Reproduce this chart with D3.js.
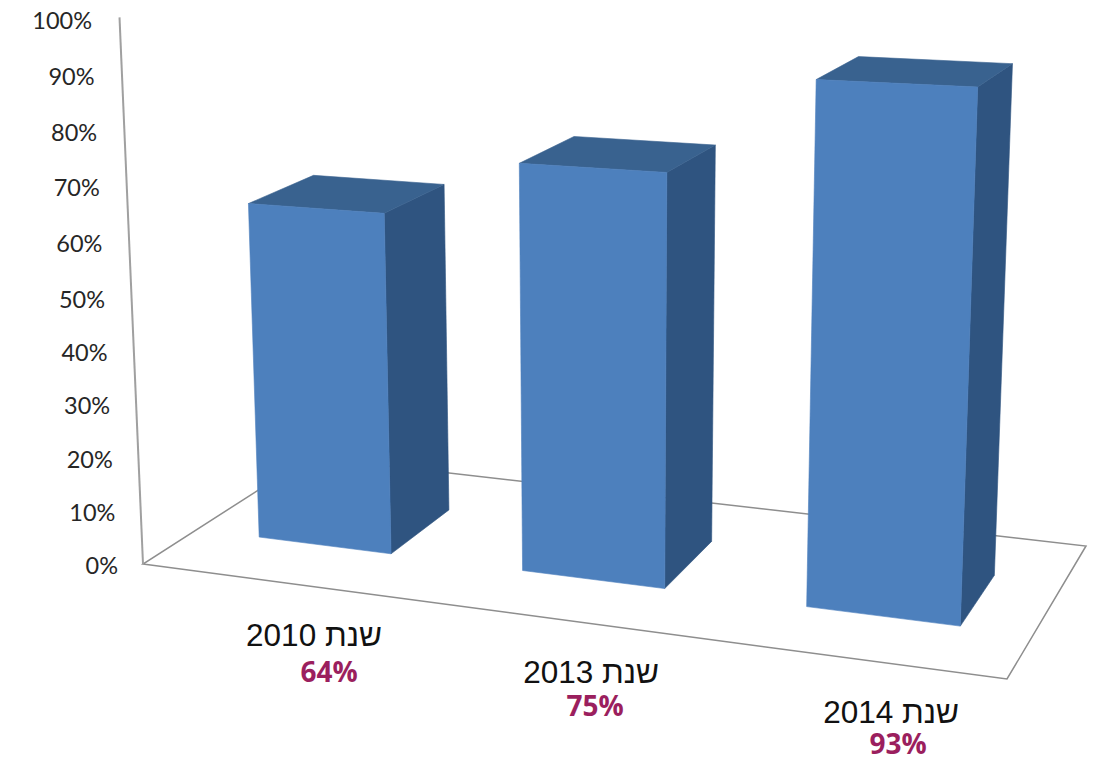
<!DOCTYPE html>
<html>
<head>
<meta charset="utf-8">
<script src="https://cdnjs.cloudflare.com/ajax/libs/d3/7.8.5/d3.min.js"></script>
<style>
html, body { margin: 0; padding: 0; background: #fff; overflow: hidden; }
</style>
</head>
<body>
<script>
const years = ["שנת 2010", "שנת 2013", "שנת 2014"];
const values = [64, 75, 93];
const valueLabels = ["64%", "75%", "93%"];
const axisTicks = [0, 10, 20, 30, 40, 50, 60, 70, 80, 90, 100];

// layout of the 3d frame, measured on the picture
const floor = { fl: [143, 564], fr: [1007, 679], br: [1086, 546], bl: [310, 457] };
const barDepth = [0.30, 0.69];
const percentNudgeX = [15, 4, 7];
const percentNudgeY = [36, 33, 31];

const width = 1107;
const height = 762;

let svg = d3.select("body")
    .append("svg")
    .attr("width", width)
    .attr("height", height);

// unit square -> floor quad
let dx1 = floor.fr[0] - floor.br[0], dx2 = floor.bl[0] - floor.br[0];
let dy1 = floor.fr[1] - floor.br[1], dy2 = floor.bl[1] - floor.br[1];
let sx = floor.fl[0] - floor.fr[0] + floor.br[0] - floor.bl[0];
let sy = floor.fl[1] - floor.fr[1] + floor.br[1] - floor.bl[1];
let det = dx1 * dy2 - dx2 * dy1;
let g = (sx * dy2 - dx2 * sy) / det;
let h = (dx1 * sy - sx * dy1) / det;

function project(u, d, v) {
    let w = g * u + h * d + 1;
    let x = (floor.fl[0] + (floor.fr[0] - floor.fl[0] + g * floor.fr[0]) * u + (floor.bl[0] - floor.fl[0] + h * floor.bl[0]) * d) / w;
    let y = (floor.fl[1] + (floor.fr[1] - floor.fl[1] + g * floor.fr[1]) * u + (floor.bl[1] - floor.fl[1] + h * floor.bl[1]) * d) / w;
    // nearer things are taller, verticals lean away from the middle
    let rise = (508 + 0.59 * (y - 510)) * (0.998 + 0.00002 * (x - 600) + 0.012 * d * (1 - u)) * v;
    return [x + (x - 610) * 0.000092 * rise, y - rise];
}

let xScale = d3.scaleBand()
    .domain(years)
    .range([0.002, 1.002])
    .paddingInner(0.49)
    .paddingOuter(0.24);
let vScale = d3.scaleLinear()
    .domain([0, 100])
    .range([0, 1]);

// tick rows are a bit wider near the top
let tickY = d3.scaleLinear().domain([0, 50, 100]).range([565, 299, 20]);
let tickX = d3.scaleLinear().domain([0, 100]).range([118, 92]);

let line = d3.line();
let frame = svg.append("g");

frame.append("path")
    .attr("d", line([floor.fl, floor.fr, floor.br, floor.bl]) + "Z")
    .attr("fill", "none")
    .attr("stroke", "#8e8e8e")
    .attr("stroke-width", 1.5);
frame.append("path")
    .attr("d", line([floor.fl, project(0, 0, 1.024)]))
    .attr("fill", "none")
    .attr("stroke", "#a0a0a0")
    .attr("stroke-width", 2);

svg.append("g")
    .selectAll("text")
    .data(axisTicks)
    .join("text")
    .attr("x", (d) => tickX(d))
    .attr("y", (d) => tickY(d))
    .attr("text-anchor", "end")
    .attr("dominant-baseline", "central")
    .text((d) => d + "%")
    .style("fill", "#262626")
    .style("font-size", "23.5px")
    .style("font-family", "Lato");

let bars = svg.append("g")
    .selectAll("g")
    .data(values)
    .join("g");

function face(bar, points, color) {
    bar.append("path")
        .attr("d", line(points) + "Z")
        .attr("fill", color)
        .attr("stroke", color)
        .attr("stroke-width", 0.6);
}

bars.each(function (val, i) {
    let u0 = xScale(years[i]);
    let u1 = u0 + xScale.bandwidth();
    let d0 = barDepth[0], d1 = barDepth[1];
    let v = vScale(val);
    let bar = d3.select(this);
    face(bar, [project(u1, d0, 0), project(u1, d1, 0), project(u1, d1, v), project(u1, d0, v)], "#2f5480");
    face(bar, [project(u0, d0, v), project(u1, d0, v), project(u1, d1, v), project(u0, d1, v)], "#39628f");
    face(bar, [project(u0, d0, 0), project(u1, d0, 0), project(u1, d0, v), project(u0, d0, v)], "#4d80bd");
});

let yearSpot = (d) => {
    let p = project(xScale(d) + xScale.bandwidth() / 2, 0, 0);
    return [p[0] + 40, p[1] + 54];
};

svg.append("g")
    .selectAll("text")
    .data(years)
    .join("text")
    .attr("x", (d) => yearSpot(d)[0])
    .attr("y", (d) => yearSpot(d)[1])
    .attr("text-anchor", "middle")
    .attr("dominant-baseline", "central")
    .attr("direction", "rtl")
    .text((d) => d)
    .style("fill", "#111")
    .style("font-size", "31.5px")
    .style("font-family", "Liberation Sans");

svg.append("g")
    .selectAll("text")
    .data(valueLabels)
    .join("text")
    .attr("x", (d, i) => yearSpot(years[i])[0] + percentNudgeX[i])
    .attr("y", (d, i) => yearSpot(years[i])[1] + percentNudgeY[i])
    .attr("text-anchor", "middle")
    .attr("dominant-baseline", "central")
    .text((d) => d)
    .style("fill", "#9b1f5e")
    .style("font-size", "28px")
    .style("font-weight", "700")
    .style("font-family", "Open Sans");
</script>
</body>
</html>
